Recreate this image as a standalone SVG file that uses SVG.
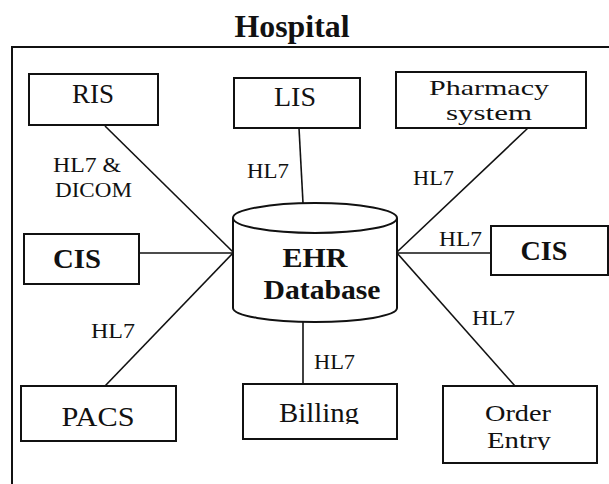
<svg xmlns="http://www.w3.org/2000/svg" width="609" height="484" viewBox="0 0 609 484">
<style>
  .box { fill: #fff; stroke: #111; stroke-width: 2; }
  .conn line { stroke: #111; stroke-width: 1.6; }
  text { font-family: 'Liberation Serif', 'DejaVu Serif', 'Noto Serif', 'Times New Roman', serif; fill: #111; }
  .t { font-size: 28px; text-anchor: middle; }
  .h { font-size: 31px; }
  .s21 { font-size: 21px; }
  .s23 { font-size: 23px; }
  .b { font-weight: bold; }
  .lbl { font-size: 22px; }
</style>
<defs>
  <clipPath id="clipBilling"><rect x="243" y="384" width="154" height="40"/></clipPath>
  <clipPath id="clipEntry"><rect x="443" y="386" width="154" height="64"/></clipPath>
</defs>
<rect width="609" height="484" fill="#fff"/>
<g id="hospital">
  <path d="M12,484 L12,47 L609,47" fill="none" stroke="#111" stroke-width="2"/>
  <text class="t b h" x="292" y="37" textLength="115" lengthAdjust="spacingAndGlyphs">Hospital</text>
</g>
<g class="conn" id="connectors">
  <line x1="105" y1="126" x2="233" y2="252"/>
  <line x1="299" y1="128" x2="303" y2="203"/>
  <line x1="528" y1="128" x2="397" y2="252"/>
  <line x1="139" y1="253" x2="233" y2="253"/>
  <line x1="397" y1="253" x2="491" y2="253"/>
  <line x1="105" y1="386" x2="233" y2="253"/>
  <line x1="303" y1="322" x2="303" y2="384"/>
  <line x1="397" y1="253" x2="515" y2="386"/>
  <text class="lbl" x="53" y="172" textLength="68" lengthAdjust="spacingAndGlyphs">HL7 &amp;</text>
  <text class="lbl" x="55" y="197" textLength="77" lengthAdjust="spacingAndGlyphs">DICOM</text>
  <text class="lbl" x="247" y="178" textLength="42" lengthAdjust="spacingAndGlyphs">HL7</text>
  <text class="lbl" x="413" y="185" textLength="41" lengthAdjust="spacingAndGlyphs">HL7</text>
  <text class="lbl" x="439" y="246" textLength="43" lengthAdjust="spacingAndGlyphs">HL7</text>
  <text class="lbl" x="472" y="325" textLength="43" lengthAdjust="spacingAndGlyphs">HL7</text>
  <text class="lbl" x="91" y="338" textLength="44" lengthAdjust="spacingAndGlyphs">HL7</text>
  <text class="lbl" x="314" y="369" textLength="41" lengthAdjust="spacingAndGlyphs">HL7</text>
</g>
<g id="ris">
  <rect class="box" x="29" y="74" width="129" height="51"/>
  <text class="t" x="93" y="103" textLength="42" lengthAdjust="spacingAndGlyphs">RIS</text>
</g>
<g id="lis">
  <rect class="box" x="234" y="78" width="126" height="50"/>
  <text class="t" x="295" y="106" textLength="42" lengthAdjust="spacingAndGlyphs">LIS</text>
</g>
<g id="pharmacy">
  <rect class="box" x="396" y="72" width="190" height="56"/>
  <text class="t s21" x="489" y="95" textLength="120" lengthAdjust="spacingAndGlyphs">Pharmacy</text>
  <text class="t s21" x="489" y="120" textLength="86" lengthAdjust="spacingAndGlyphs">system</text>
</g>
<g id="cis-left">
  <rect class="box" x="24" y="234" width="115" height="50"/>
  <text class="t b" x="77" y="268" textLength="48" lengthAdjust="spacingAndGlyphs">CIS</text>
</g>
<g id="cis-right">
  <rect class="box" x="491" y="226" width="117" height="49"/>
  <text class="t b" x="544" y="260" textLength="47" lengthAdjust="spacingAndGlyphs">CIS</text>
</g>
<g id="ehr">
  <path d="M233,218 L233,308 A82,14 0 0 0 397,308 L397,218" fill="#fff" stroke="#111" stroke-width="2"/>
  <ellipse cx="315" cy="218" rx="82" ry="15" fill="#fff" stroke="#111" stroke-width="2"/>
  <text class="t b" x="315" y="267" textLength="65" lengthAdjust="spacingAndGlyphs">EHR</text>
  <text class="t b" x="322" y="299" textLength="117" lengthAdjust="spacingAndGlyphs">Database</text>
</g>
<g id="pacs">
  <rect class="box" x="21" y="386" width="155" height="55"/>
  <text class="t" x="98" y="426" textLength="73" lengthAdjust="spacingAndGlyphs">PACS</text>
</g>
<g id="billing">
  <rect class="box" x="243" y="384" width="154" height="55"/>
  <text class="t" x="319" y="422" textLength="80" lengthAdjust="spacingAndGlyphs" clip-path="url(#clipBilling)">Billing</text>
</g>
<g id="order-entry">
  <rect class="box" x="443" y="386" width="154" height="77"/>
  <text class="t s23" x="518" y="421" textLength="66" lengthAdjust="spacingAndGlyphs">Order</text>
  <text class="t s23" x="519" y="448" textLength="64" lengthAdjust="spacingAndGlyphs" clip-path="url(#clipEntry)">Entry</text>
</g>
</svg>
